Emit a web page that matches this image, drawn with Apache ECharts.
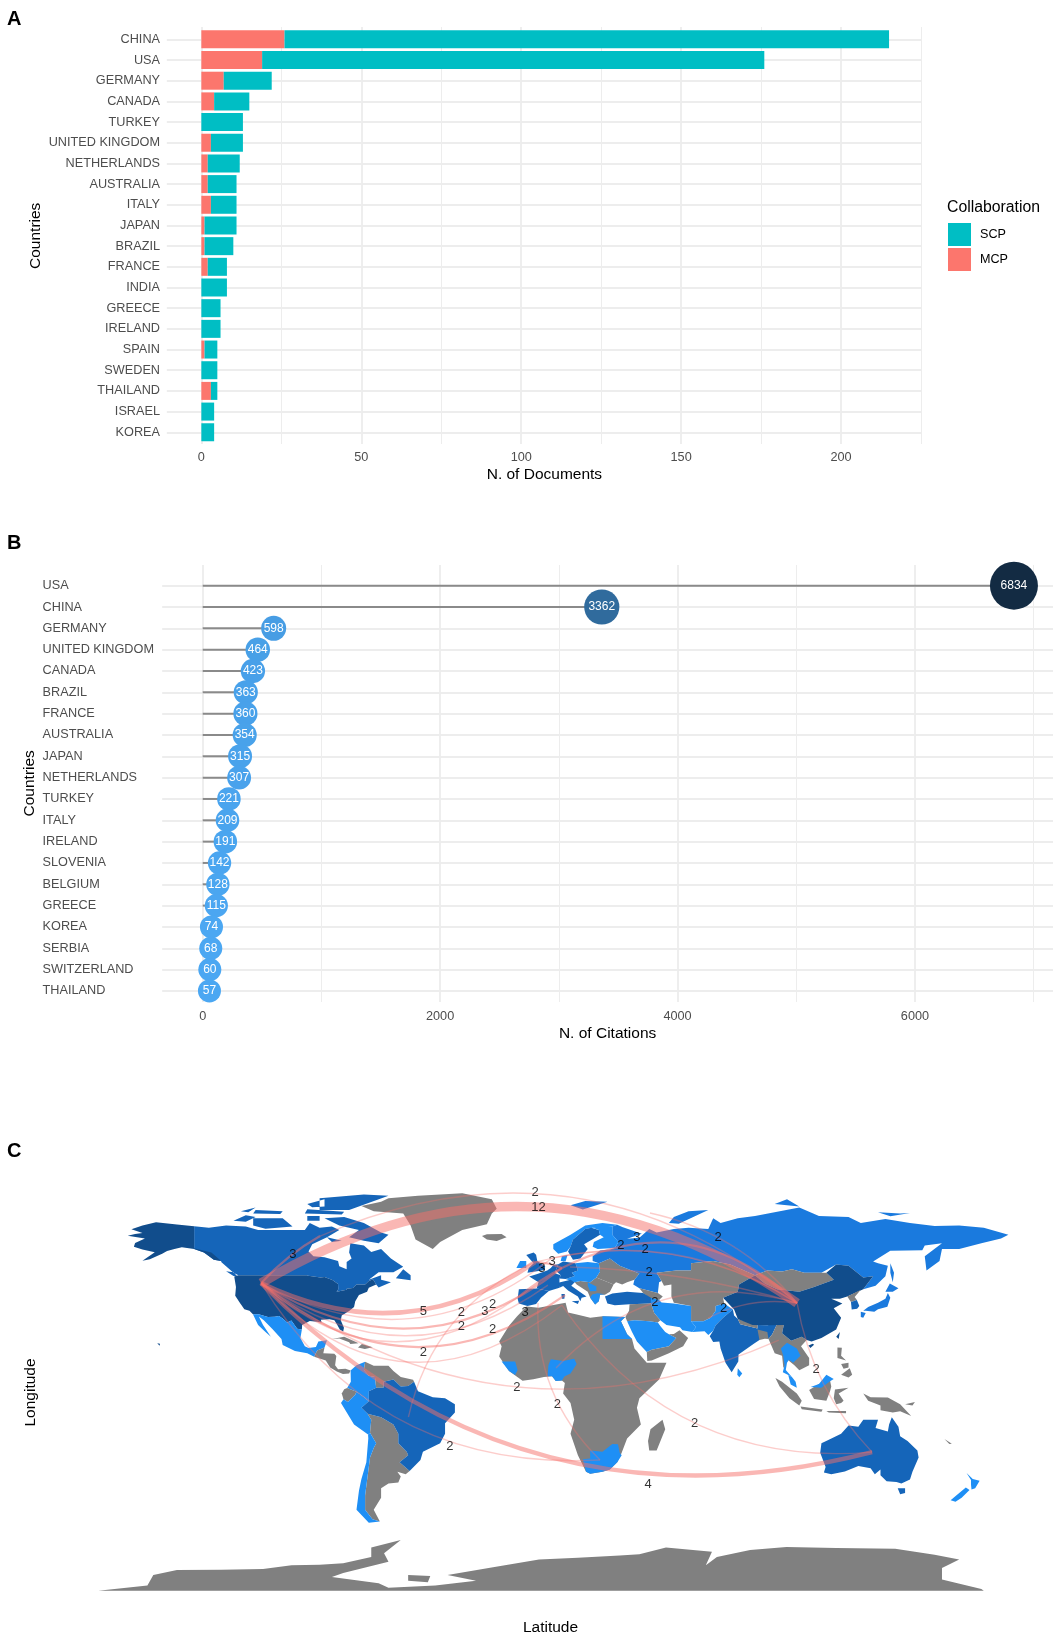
<!DOCTYPE html>
<html>
<head>
<meta charset="utf-8">
<title>Countries</title>
<script src="https://cdn.jsdelivr.net/npm/echarts@6/dist/echarts.min.js"></script>
<style>
  html, body { margin: 0; padding: 0; background: #fff; }
  #chart { width: 1059px; height: 1637px; }
</style>
</head>
<body>
<div id="chart"></div>
<script>
// panel A
const docCountries = ['CHINA', 'USA', 'GERMANY', 'CANADA', 'TURKEY', 'UNITED KINGDOM', 'NETHERLANDS', 'AUSTRALIA', 'ITALY', 'JAPAN', 'BRAZIL', 'FRANCE', 'INDIA', 'GREECE', 'IRELAND', 'SPAIN', 'SWEDEN', 'THAILAND', 'ISRAEL', 'KOREA']
const mcpDocs = [26, 19, 7, 4, 0, 3, 2, 2, 3, 1, 1, 2, 0, 0, 0, 1, 0, 3, 0, 0]
const scpDocs = [189, 157, 15, 11, 13, 10, 10, 9, 8, 10, 9, 6, 8, 6, 6, 4, 5, 2, 4, 4]
const docTicks = [0, 50, 100, 150, 200]
const docMinorTicks = [25, 75, 125, 175, 225]

// panel B
const citeCountries = ['USA', 'CHINA', 'GERMANY', 'UNITED KINGDOM', 'CANADA', 'BRAZIL', 'FRANCE', 'AUSTRALIA', 'JAPAN', 'NETHERLANDS', 'TURKEY', 'ITALY', 'IRELAND', 'SLOVENIA', 'BELGIUM', 'GREECE', 'KOREA', 'SERBIA', 'SWITZERLAND', 'THAILAND']
const citations = [6834, 3362, 598, 464, 423, 363, 360, 354, 315, 307, 221, 209, 191, 142, 128, 115, 74, 68, 60, 57]
const citeTicks = [0, 2000, 4000, 6000]
const citeMinorTicks = [1000, 3000, 5000, 7000]

// panel C, collaboration links, [lon, lat] of each country anchor
const anchors = {
  USA: [-113.8, 45.6], CHINA: [104.1, 37.2], AUSTRALIA: [134.6, -25.7], CANADA: [-89.8, 65.5],
  RUSSIA: [44.3, 75.2], GERMANY: [8.5, 52], UK: [-2.4, 54.5], NETHERLANDS: [4.5, 56.2],
  FRANCE: [2.8, 44.8], SPAIN: [-9.3, 39.7], ITALY: [9.8, 40.6], ALGERIA: [8.5, 36.3],
  NIGERIA: [6.1, 9.8], PAKISTAN: [67.9, 30.9], THAILAND: [96.7, 21.6], SOUTHAFRICA: [24, -29],
  BRAZIL: [-53.9, -10.9], MOROCCO: [-1.2, 37.2], SLOVENIA: [11.8, 52.4]
}
const linkFrom = ['CANADA', 'USA', 'USA', 'RUSSIA', 'GERMANY', 'UK', 'NETHERLANDS', 'SLOVENIA', 'NIGERIA', 'PAKISTAN', 'CHINA', 'ALGERIA', 'MOROCCO', 'USA', 'USA', 'USA', 'BRAZIL', 'USA', 'USA', 'USA', 'USA', 'USA', 'USA', 'USA', 'SPAIN', 'UK']
const linkTo = ['CHINA', 'CHINA', 'CANADA', 'CHINA', 'CHINA', 'CHINA', 'CHINA', 'CHINA', 'CHINA', 'CHINA', 'AUSTRALIA', 'AUSTRALIA', 'SOUTHAFRICA', 'THAILAND', 'SOUTHAFRICA', 'AUSTRALIA', 'UK', 'UK', 'NETHERLANDS', 'GERMANY', 'FRANCE', 'ITALY', 'SPAIN', 'ALGERIA', 'GERMANY', 'GERMANY']
const linkCounts = [2, 12, 3, 2, 3, 2, 2, 2, 2, 2, 2, 2, 2, 2, 2, 4, 2, 5, 2, 3, 2, 3, 2, 2, 3, 3]
const linkCurves = [0.305, 0.322, 0.08, 0.174, 0.351, 0.216, 0.206, 0.065, 0.304, 0.161, -0.152, -0.29, -0.224, -0.289, -0.298, -0.286, 0.25, -0.29, -0.33, -0.35, -0.36, -0.38, -0.4, -0.45, 0.05, 0.1]
const linkLabelAt = [[-2.4, 84], [-1, 77.7], [-100.9, 57.9], [72, 65], [39, 65], [32.5, 61.7], [42.3, 60], [43.9, 50.3], [46.3, 37.6], [74.2, 35.1], [111.8, 9.3], [62.4, -13.4], [6.7, -5.4], [-9.8, 1.7], [-37, -23.2], [43.5, -39.2], [-47.8, 16.2], [-47.8, 33.8], [-32.4, 33.1], [-22.8, 33.8], [-19.7, 36.8], [-6.5, 33.4], [-32.4, 27.5], [-19.7, 26.1], [0.4, 52], [4.5, 54.9]]
const linkWidths = { 2: 1.4, 3: 2.2, 4: 4.4, 5: 4.6, 12: 9.5 }

// map shades
const darkRegions = ['USA', 'China']
const midRegions = ['Canada', 'Brazil', 'Australia', 'India', 'UK', 'Germany', 'Netherlands', 'France', 'Spain', 'Italy', 'Turkey', 'South Korea', 'Sweden']
const brightRegions = ['Russia', 'Japan']
const lightRegions = ['Mexico', 'Colombia', 'Peru', 'Chile', 'Ireland', 'Poland', 'Serbia', 'Greece', 'Norway', 'Finland', 'Denmark', 'Iran', 'Saudi Arabia', 'Egypt', 'Pakistan', 'Nigeria', 'Guinea', 'South Africa', 'Thailand', 'Malaysia', 'New Zealand', 'Sri Lanka']

// rough outlines in lon/lat; later ones are painted over earlier ones
const mapShapes = [
  ['Greenland', [[[-73, 78.2], [-68, 76], [-56, 75], [-53, 70], [-51, 64], [-44, 60], [-41, 63], [-32, 68], [-22, 70.5], [-20, 75], [-18, 77], [-20, 81], [-32, 83.6], [-50, 82.5], [-62, 81.5], [-65, 80]]]],
  ['Iceland', [[[-24, 65.5], [-22, 64], [-18, 63.4], [-14, 65], [-16, 66.4], [-22, 66.3]]]],
  ['Canada', [
    [[-141, 69.6], [-135, 69], [-128, 70], [-120, 69.5], [-115, 68], [-108, 68], [-102, 68], [-96, 68], [-94, 71], [-90, 69], [-85, 69.5], [-82, 68], [-87, 65], [-93, 62], [-94.5, 59], [-92.5, 57], [-88, 56.5], [-82.5, 55], [-82, 52.8], [-79, 51.5], [-79, 54.5], [-77, 56], [-78, 58.5], [-77.5, 62.5], [-72, 61.5], [-69, 58.8], [-65, 60], [-61, 56], [-56, 52.5], [-60, 50.2], [-66, 50.2], [-70, 47], [-65, 49], [-65, 47], [-61, 46], [-66, 43.8], [-67, 45], [-68.3, 47.3], [-70, 46.5], [-71.5, 45], [-75, 45], [-76.5, 43.6], [-79, 43.3], [-79, 42.8], [-83.1, 42], [-82.4, 43], [-82.5, 45.3], [-84.8, 46.9], [-88, 48.2], [-89.6, 48], [-94.6, 48.7], [-95.2, 49], [-123, 49], [-125, 50], [-130, 54.5], [-130, 55], [-133, 55.5], [-137, 58.5], [-141, 60]],
    [[-80, 73.5], [-72, 71], [-65, 67], [-62, 66], [-66, 62.5], [-72, 63.5], [-78, 65], [-74, 68], [-82, 70], [-88, 73]],
    [[-117, 73], [-105, 73], [-101, 69.5], [-112, 68.6], [-117, 70]],
    [[-90, 76.5], [-78, 76.5], [-62, 82.5], [-72, 83], [-90, 81.5]],
    [[-125, 72], [-120, 74.3], [-116, 73.5], [-120, 71.5]],
    [[-96, 75], [-81, 74.6], [-80, 75.7], [-95, 76.8]],
    [[-117, 75], [-106, 74.8], [-105, 76], [-116, 76.5]],
    [[-95, 74], [-90, 74], [-90, 72], [-95, 72]],
    [[-122, 76], [-116, 77.5], [-119, 75.5]],
    [[-95, 79], [-88, 81], [-88, 78], [-93, 77.7]],
    [[-59, 47.7], [-53, 46.8], [-53, 49], [-56, 51.5]],
    [[-87, 65], [-81, 63.5], [-85, 63]],
    [[-128, 50.6], [-125, 48.6], [-123.5, 48.5], [-125, 50.2]]
  ]],
  ['USA', [
    [[-124.7, 48.4], [-123, 49], [-95.2, 49], [-94.6, 48.7], [-89.6, 48], [-88, 48.2], [-84.8, 46.9], [-82.5, 45.3], [-82.4, 43], [-83.1, 42], [-79, 42.8], [-79, 43.3], [-76.5, 43.6], [-75, 45], [-71.5, 45], [-70, 46.5], [-68.3, 47.3], [-67, 45], [-70, 43.7], [-70.7, 42], [-74, 40.6], [-75.5, 38], [-76, 35.5], [-78, 33.9], [-81, 32], [-81.4, 30], [-80.1, 26.8], [-80.4, 25.2], [-81.8, 26], [-82.8, 28], [-84, 30], [-86, 30.4], [-89.5, 30.2], [-89.2, 29], [-91, 29.3], [-94, 29.6], [-97.1, 28], [-97.2, 26], [-99.1, 26.4], [-101.5, 29.8], [-103.2, 29], [-104.9, 30.6], [-106.5, 31.8], [-108.2, 31.4], [-111, 31.3], [-114.8, 32.5], [-117.1, 32.5], [-118.5, 34], [-120.6, 34.6], [-122.5, 37.5], [-124.3, 40.3], [-124, 44]],
    [[-141, 69.6], [-148, 70.4], [-156.5, 71.3], [-162, 70], [-166.5, 68.4], [-162, 66.8], [-165, 66.4], [-168, 65.6], [-161, 64.5], [-165, 62.6], [-165.5, 61], [-162, 59.8], [-157, 58.7], [-162, 55.1], [-159, 55.7], [-154, 58], [-152, 59.2], [-149, 60], [-146, 60.8], [-141, 60], [-137, 58.5], [-133, 55.5], [-130, 55], [-134, 58.5], [-137, 59.3], [-141, 60.3]],
    [[-156, 20.2], [-155, 19.2], [-154.9, 20]]
  ]],
  ['Mexico', [[[-117.1, 32.5], [-114.8, 32.5], [-111, 31.3], [-108.2, 31.4], [-106.5, 31.8], [-104.9, 30.6], [-103.2, 29], [-101.5, 29.8], [-99.1, 26.4], [-97.2, 26], [-97.8, 22.5], [-96, 19], [-94.5, 18.2], [-91.5, 18.7], [-90.5, 21], [-87, 21.5], [-88, 18.5], [-89.2, 17.9], [-91, 17.2], [-92.2, 14.6], [-95, 16], [-100, 17], [-105, 19.5], [-105.5, 22], [-109, 26], [-112.7, 30], [-114.7, 31.5], [-113, 28], [-109.8, 23], [-112, 25], [-115, 28]]]],
  ['Central America', [
    [[-92.2, 14.6], [-91, 17.2], [-89.2, 17.9], [-88, 18.5], [-88.5, 16], [-84, 15.8], [-83.2, 14.9], [-83.7, 11], [-82.5, 9.3], [-79.5, 9.5], [-77.4, 8.7], [-78, 7.5], [-80.5, 7.3], [-83, 8.3], [-85.7, 10], [-87.5, 13]],
    [[-85, 22], [-80, 23], [-75, 20.7], [-74.2, 20.2], [-77.5, 19.9], [-78, 20.7], [-82, 22.3]],
    [[-74.4, 18.5], [-72.8, 19.9], [-68.4, 18.6], [-71.6, 17.8]]
  ]],
  ['Colombia', [[[-77.4, 8.7], [-75, 11], [-71.5, 12.4], [-72, 9], [-70, 6.5], [-67.5, 6], [-67, 1.5], [-70, 0], [-70, -4.2], [-72, -2.4], [-75, -0.2], [-78.8, 1.4], [-77.3, 4]]]],
  ['Venezuela', [[[-71.5, 12.4], [-68, 10.7], [-62, 10.7], [-60, 8.5], [-57, 6], [-52, 4.8], [-51.6, 4], [-54, 2.2], [-57, 2], [-60, 5], [-64, 4], [-64, 1.5], [-67, 1.5], [-67.5, 6], [-70, 6.5], [-72, 9]]]],
  ['Ecuador', [[[-78.8, 1.4], [-75, -0.2], [-75.5, -1.5], [-78.5, -4.5], [-80.3, -3.4], [-81, -1], [-80, 0.8]]]],
  ['Peru', [[[-75, -0.2], [-72, -2.4], [-70, -4.2], [-73, -7], [-70.5, -9.5], [-69, -12], [-69.5, -17.5], [-70.3, -18.3], [-76, -14], [-81.3, -5], [-80.3, -3.4], [-78.5, -4.5], [-75.5, -1.5]]]],
  ['Argentina', [[[-69, -12], [-70.5, -9.5], [-65, -11], [-60, -14], [-58, -18], [-58, -22], [-54.6, -25.5], [-54, -27], [-57.5, -30], [-53.4, -33.7], [-55, -35], [-58.4, -34], [-57, -36], [-58, -38.5], [-62, -39], [-65, -41], [-65, -45], [-68, -50], [-65.5, -55], [-68.5, -54], [-71.5, -50], [-71.5, -44], [-70.5, -36], [-69.5, -28], [-68, -24], [-67, -22], [-69.5, -17.5]]]],
  ['Chile', [[[-69.5, -17.5], [-67, -22], [-68, -24], [-69.5, -28], [-70.5, -36], [-71.5, -44], [-71.5, -50], [-68.5, -54], [-65.5, -55], [-70, -55.5], [-75, -50], [-74, -42], [-73, -37], [-71, -30], [-70.2, -20], [-70.3, -18.3]]]],
  ['Brazil', [[[-51.6, 4], [-50, 0], [-44, -2.5], [-39, -3], [-35, -5.5], [-35, -9], [-39, -13.5], [-39, -18], [-41, -22], [-48, -25.5], [-49, -29], [-53.4, -33.7], [-57.5, -30], [-54, -27], [-54.6, -25.5], [-58, -22], [-58, -18], [-60, -14], [-65, -11], [-70.5, -9.5], [-73, -7], [-70, -4.2], [-70, 0], [-67, 1.5], [-64, 1.5], [-64, 4], [-60, 5], [-57, 2], [-54, 2.2]]]],
  ['Africa', [
    [[-5.9, 35.8], [-1, 35.2], [10, 37.3], [11, 33.2], [15, 32.3], [20, 31], [25, 31.6], [34.2, 31.3], [32.5, 29.5], [35, 24], [37, 22], [38, 18], [43, 12], [51, 12], [48, 5], [40, -3], [39, -7], [40.6, -14], [35, -20], [32.8, -26], [31, -30], [28, -33], [25, -34], [20, -34.8], [18.3, -34], [15, -27], [12, -18], [13.5, -12], [12, -5], [9, -1], [9.7, 3.5], [8.5, 4.5], [6, 4.3], [4.5, 6.3], [1.2, 6], [-3.1, 5.1], [-7.5, 4.4], [-13, 8.5], [-17, 14.7], [-16, 19], [-17, 21], [-13, 27.6], [-9.8, 31.5]],
    [[49.4, -12], [50.5, -16], [47, -25], [44, -25], [43.5, -21], [44.5, -16]]
  ]],
  ['Egypt', [[[25, 31.6], [34.2, 31.3], [32.5, 29.5], [35, 24], [37, 22], [25, 22]]]],
  ['Nigeria', [[[2.7, 6.3], [4.5, 6.3], [6, 4.3], [8.5, 4.5], [9.5, 6.2], [12, 7.5], [14.5, 11.5], [13.5, 13.7], [9, 12.8], [4, 13.5], [3, 11]]]],
  ['Guinea', [[[-16, 12.5], [-13, 8.5], [-10.5, 6.8], [-9.5, 9], [-10.5, 12.5]]]],
  ['South Africa', [[[17, -28.7], [20, -28.4], [20, -25], [25, -25.5], [29, -22.3], [31.3, -22.4], [32, -26], [32.8, -27], [31, -30], [28, -33], [25, -34], [20, -34.8], [18.3, -34]]]],
  ['Balkans', [[[13.7, 46], [16, 46.5], [20, 46], [22.5, 48], [29.5, 45], [28, 42], [26, 40.7], [24, 40.7], [23.5, 38], [22, 36.6], [20, 39.5], [19, 42], [14.5, 45]]]],
  ['Ukraine', [[[23.5, 54], [28, 56], [32, 53], [40, 49.7], [38, 47], [35, 46], [33, 45], [30.5, 46], [29.5, 45], [22.5, 48], [24, 50.5]]]],
  ['Spain', [[[-9, 43], [-1.8, 43.4], [3.2, 42.3], [0, 39.5], [-2, 36.8], [-5.5, 36], [-9, 37], [-9.5, 39]]]],
  ['France', [[[-1.8, 43.4], [3.2, 42.3], [7.5, 43.7], [7.5, 47.5], [8, 49], [2.5, 51], [-1.5, 49.5], [-4.8, 48.4], [-1, 46]]]],
  ['UK', [[[-5.5, 50], [1.5, 51.2], [1.7, 52.8], [-1.5, 55], [-2, 57.6], [-3, 58.6], [-6, 57.5], [-3, 54], [-5, 52]]]],
  ['Ireland', [[[-10, 52], [-6, 52], [-6, 55], [-8.5, 55]]]],
  ['Poland', [[[14, 54], [19, 54.5], [23.5, 54], [24, 50.5], [22.5, 48], [20, 46], [16, 46.5], [13.7, 46], [10, 47.4], [13.7, 48.6], [12.5, 50], [15, 51]]]],
  ['Germany', [[[6, 51], [7, 53.6], [9, 54.8], [14, 54], [15, 51], [12.5, 50], [13.7, 48.6], [10, 47.4], [7.5, 47.6], [8, 49]]]],
  ['Netherlands', [[[2.5, 51], [4, 52], [5, 53.3], [7, 53.6], [6, 51], [5.8, 49.6], [3, 50.5]]]],
  ['Italy', [
    [[7.5, 43.7], [7, 45.8], [12, 47], [13.7, 46], [12.3, 44.5], [16, 41.8], [18.5, 40], [16.5, 39.5], [16, 38], [15, 40], [11, 42.5], [9, 44.4]],
    [[12.5, 38], [15.5, 38.2], [15, 36.8]],
    [[8.3, 41], [9.7, 41], [9.5, 39], [8.5, 39]]
  ]],
  ['Serbia', [[[19, 46], [22.5, 44.2], [22.5, 42.3], [20, 42.2], [19, 44.5]]]],
  ['Greece', [[[20, 39.5], [22, 36.6], [23.5, 38], [24, 40.7], [26, 40.9], [23, 41.3], [20.8, 40.8]]]],
  ['Norway', [[[5, 60], [7, 58], [10.5, 59], [12, 61], [13, 64], [18, 68.5], [21, 69], [29, 69.5], [31, 70.3], [25, 71], [18, 70], [12, 66], [5, 62]]]],
  ['Sweden', [[[11, 59], [13, 55.5], [16, 56], [19, 60], [17.5, 62], [21.5, 64.5], [24, 66], [23.5, 68], [20.5, 69], [18, 68.5], [13, 64], [12, 61]]]],
  ['Denmark', [[[8, 55], [8.5, 57], [10.8, 57.5], [10, 54.9]]]],
  ['Russia', [
    [[21, 55], [23.5, 54], [28, 56], [32, 53], [40, 49.7], [38, 47], [37.5, 45], [40, 43.5], [47.5, 41.5], [48, 46], [49, 46.5], [47, 50], [55, 51], [61, 51], [61, 54], [70, 55], [77, 53.5], [87, 49], [92, 51], [98, 50.5], [102, 51.5], [107, 50], [114, 50], [120, 53.5], [125, 53], [131, 48], [135, 48.5], [131, 43], [136, 44.5], [140, 48.5], [141, 53], [137, 54], [135, 54.7], [142, 59.3], [155, 59.5], [156, 61.5], [163, 62.5], [156, 57], [156.7, 51], [162, 55], [163, 60], [170, 60], [179, 62.5], [187, 64.5], [190, 66], [180, 69], [170, 70], [160, 69.7], [150, 71], [140, 72.7], [130, 71], [125, 73.5], [113, 74], [105, 77.5], [87, 74], [80, 73], [73, 71], [70, 73], [68, 68.5], [60, 69], [54, 68.5], [47, 67], [44, 68.5], [40, 64.8], [35, 64.4], [41, 66.5], [33, 69.3], [31, 70.3], [29, 69.5], [29, 66], [31.5, 63], [30, 60.5], [28, 59.8], [24, 59.4], [21, 57]],
    [[52, 71], [56, 70.7], [68, 76.5], [60, 76], [54, 73.5]],
    [[142, 54], [143.5, 50], [143, 46], [142, 50]],
    [[12, 78.5], [17, 76.7], [27, 80], [18, 80.3]],
    [[95, 79], [105, 78], [100, 81]],
    [[137, 75.5], [146, 75], [150, 75.2], [142, 73.9]]
  ]],
  ['Finland', [[[23, 60], [30, 60.5], [31.5, 63], [29, 66], [29, 69.5], [25, 70], [21, 69], [23.5, 68], [24, 66], [25.5, 65], [21.5, 63], [21, 61]]]],
  ['Central Asia', [[[47, 50], [55, 51], [61, 51], [61, 54], [70, 55], [77, 53.5], [87, 49], [80.5, 45], [80, 42], [74, 39.5], [74.5, 37], [71, 36], [71, 34], [69, 31], [66, 29.5], [61, 29.5], [61, 36], [54, 37.3], [53, 40], [53, 45], [50, 44.5], [49, 46.5]]]],
  ['Mongolia', [[[87, 49], [92, 51], [98, 50.5], [102, 51.5], [107, 50], [114, 50], [116, 50], [119, 47], [111, 44], [105, 42], [96, 43], [91, 45.5]]]],
  ['Caucasus', [[[40, 43.5], [47.5, 41.5], [49.5, 40], [48, 38.5], [44, 39.5], [41.5, 41.5]]]],
  ['Turkey', [[[26, 40], [29, 41.2], [35, 42], [41.5, 41.5], [44.7, 39.5], [44.7, 37], [36, 36.7], [30, 36.3], [27, 37]]]],
  ['Iran', [[[44.7, 39.5], [48, 38.5], [49, 37.5], [54, 37], [61, 36], [61, 29.5], [63, 27], [61.5, 25], [57.5, 25.7], [56.5, 27], [51, 28], [48.5, 30], [46, 33], [44.7, 37]]]],
  ['Iraq', [[[36, 36.7], [44.7, 37], [46, 33], [48.5, 30], [47.5, 29], [44, 29.5], [38, 30], [35, 29.5], [34.3, 31.3], [35.8, 34]]]],
  ['Saudi Arabia', [[[35, 29.5], [38, 30], [44, 29.5], [47.5, 29], [48.5, 27.5], [50.5, 25], [52, 24], [55, 22.5], [52, 19], [45, 17.5], [43, 16.6], [39, 21], [37, 25]]]],
  ['Oman', [[[43, 16.6], [45, 17.5], [52, 19], [55, 22.5], [52, 24], [54, 24.2], [56.3, 25.7], [59.8, 22.5], [57.8, 19], [52, 16], [45, 13], [43.2, 12.8]]]],
  ['Pakistan', [[[61, 29.5], [66, 29.5], [69, 31], [71, 34], [71, 36], [74.5, 37], [78, 34.5], [74, 31], [71, 27.8], [70, 25.5], [68, 23.7], [66.5, 25.3], [61.5, 25], [63, 27]]]],
  ['India', [[[74, 31], [78, 34.5], [78.5, 32], [80, 30.5], [81, 28.3], [88, 26.5], [88, 28], [92, 27.8], [96, 28.5], [94, 24], [92.5, 22], [91, 24.2], [88.8, 21.6], [86.5, 20], [80.3, 15.5], [80.2, 12.5], [77.5, 8], [75, 12], [73, 18], [72.5, 21], [70, 20.8], [68.6, 23.2], [70, 25.5], [71, 27.8]]]],
  ['Nepal', [[[80, 30.5], [88, 28], [88, 26.5], [81, 28.3]]]],
  ['Bangladesh', [[[88, 26], [92, 25], [92.5, 22], [91, 22.2], [88.8, 21.6]]]],
  ['Indochina', [[[92.5, 22], [94, 24], [96, 28.5], [98.7, 28], [98, 24.5], [101.7, 21.3], [106, 23], [108, 21.6], [105.7, 19], [109, 14], [109, 11], [105, 8.8], [103, 11], [100, 13.5], [99, 10], [98.5, 10], [98, 15], [95, 16], [94, 18.5]]]],
  ['Thailand', [[[97.5, 18], [100, 20.5], [104, 18], [105.5, 15], [102.5, 12], [100.8, 13.3], [100, 12], [99.5, 9], [102, 6], [100.5, 6.8], [98.3, 8], [99, 11], [98.5, 15]]]],
  ['China', [
    [[74, 39.5], [80, 42], [80.5, 45], [87, 49], [91, 45.5], [96, 43], [105, 42], [111, 44], [119, 47], [116, 50], [120, 53.5], [125, 53], [131, 48], [135, 48.5], [131, 43], [124.5, 40], [121.5, 39], [118, 39], [122.5, 37], [119, 35], [122, 31], [120, 26], [114, 22.5], [110, 21], [108, 21.6], [106, 23], [101.7, 21.3], [98, 24.5], [98.7, 28], [92, 27.8], [86, 28], [80, 30.5], [78.5, 34.5]],
    [[108.7, 19.3], [110.5, 20], [111, 19.6], [109.5, 18.2]],
    [[120, 23], [121.5, 25], [121, 22]]
  ]],
  ['North Korea', [[[124.5, 40], [130, 42.8], [127.5, 39.8], [128.4, 38.5], [126, 37.7]]]],
  ['South Korea', [[[126, 37.7], [128.4, 38.5], [129.4, 36], [128.5, 34.8], [126.3, 34.5]]]],
  ['Japan', [
    [[131, 34], [133, 35.5], [137, 37.3], [140, 39], [141, 41.5], [142, 39.5], [140.8, 35.7], [137, 34.6], [135.5, 33.5], [132, 34]],
    [[140, 42], [141.8, 45.5], [145.3, 43.5], [143, 42]],
    [[130, 33.5], [132, 33], [131, 31], [130, 31.3]]
  ]],
  ['Sri Lanka', [[[80, 9.7], [81.8, 7.5], [80.6, 5.9], [79.8, 7]]]],
  ['Indonesia', [
    [[109, 0.5], [113, 3], [117.5, 4.5], [118, 2], [117.5, 0], [116, -4], [111, -3.3]],
    [[95.3, 5.6], [98, 4], [104, -1], [106, -4], [105, -6], [101, -3], [97, 2]],
    [[105.5, -6.5], [114.5, -7.7], [114, -8.7], [106, -7.6]],
    [[119.5, 0.7], [125, 1.5], [121, -1], [123, -4], [122, -5], [120, -5.5], [119, -3]],
    [[131, -1], [134, -2.5], [141, -2.6], [146, -5.5], [150.5, -10.5], [146, -8.5], [143, -9], [138, -8], [138, -6], [133, -4]],
    [[116, -8.3], [124, -8.3], [124, -9.3], [117, -9]],
    [[148, -5.5], [152, -4.5], [151, -6]],
    [[164, -20.2], [167, -22.2], [166, -22.3]]
  ]],
  ['Philippines', [
    [[120.5, 18.5], [122.3, 18.3], [122, 15], [124, 13], [120.5, 14]],
    [[122, 7], [125.5, 9.7], [126.5, 7], [125, 5.8]],
    [[122, 11.5], [125, 12], [125, 10], [123, 9.5]]
  ]],
  ['Malaysia', [
    [[100.5, 6.8], [102, 6], [103.5, 4], [104, 1.5], [101.5, 2.8]],
    [[109.6, 1.8], [113, 3], [116, 7], [119, 5.2], [117.5, 4.2], [114, 1.5]]
  ]],
  ['Australia', [
    [[114, -22], [113.5, -26], [115.7, -32], [115, -34.3], [118, -35], [123.5, -33.9], [129, -31.6], [134, -32.5], [135.7, -35], [138, -33], [138, -35.5], [140.5, -38], [144.5, -38.3], [146.5, -39], [150, -37.3], [151, -34], [153.5, -28], [153, -25], [149, -21], [146, -19], [145.3, -15], [142.6, -11], [141.5, -14], [141, -17], [136, -15.5], [137, -12], [131, -12], [129, -15], [125, -14.5], [122, -18], [117, -20.5]],
    [[145, -41], [148, -41], [148, -43], [146, -43.5]]
  ]],
  ['New Zealand', [
    [[173, -34.5], [175.5, -37], [178.3, -37.8], [176.5, -41], [175, -41.5], [174.8, -39.5], [174.8, -37.5]],
    [[172.7, -40.6], [174.2, -41.7], [171, -45], [168.5, -46.6], [166.5, -46], [170, -43]]
  ]],
  ['Antarctica', [
    [[-180, -84.2], [-160, -82], [-157.6, -77.6], [-148, -75.5], [-130, -75.3], [-113, -75], [-101.4, -73.4], [-90, -73.2], [-80.4, -72.6], [-69, -70], [-69, -66], [-57, -62.8], [-63.8, -68.4], [-62, -72], [-80.4, -76.7], [-85, -78.4], [-66, -81], [-62, -83], [-43, -82], [-26.4, -80], [-38, -77.6], [-19.5, -74.3], [-0.8, -71], [15, -70.3], [32, -69.3], [40, -68.8], [50.8, -66], [69.5, -67.8], [67, -73.4], [71.5, -70], [85, -67], [99.8, -65.8], [120, -66.2], [144, -66.5], [160, -69], [170, -71], [163, -74.6], [163, -79.5], [179, -83.5], [180, -84.2]],
    [[-54, -77.6], [-45, -78], [-46, -80.6], [-54, -80]]
  ]]
]

const TICK_COLOR = '#4d4d4d'
const GRID_COLOR = '#ededed'

const chart = echarts.init(document.getElementById('chart'))

echarts.registerMap('collabWorld', {
  type: 'FeatureCollection',
  features: mapShapes.map(function (item) {
    return {
      type: 'Feature',
      properties: { name: item[0] },
      geometry: { type: 'MultiPolygon', coordinates: item[1].map(function (ring) { return [ring] }) }
    }
  })
})

function shade (names, color) {
  return names.map(function (name) {
    return { name: name, itemStyle: { areaColor: color } }
  })
}

// hidden axis that only draws vertical grid lines
function gridOnlyAxis (gridIndex, min, max, ticks, width) {
  return {
    type: 'value',
    gridIndex: gridIndex,
    min: min,
    max: max,
    axisLine: { show: false },
    axisTick: { show: false, customValues: ticks },
    axisLabel: { show: false },
    splitLine: { show: true, lineStyle: { color: GRID_COLOR, width: width } }
  }
}

function valueAxis (gridIndex, min, max, ticks, name, nameGap) {
  return {
    type: 'value',
    gridIndex: gridIndex,
    min: min,
    max: max,
    name: name,
    nameLocation: 'middle',
    nameGap: nameGap,
    nameTextStyle: { color: '#000', fontSize: 15.5 },
    axisLine: { show: false },
    axisTick: { show: false, customValues: ticks },
    axisLabel: {
      customValues: ticks,
      color: TICK_COLOR,
      fontSize: 12.7,
      margin: 8,
      formatter: function (v) { return String(v) }
    },
    splitLine: { show: false }
  }
}

function categoryAxis (gridIndex, data, nameGap, namePadding, labelExtra) {
  return {
    type: 'category',
    gridIndex: gridIndex,
    inverse: true,
    data: data,
    name: 'Countries',
    nameLocation: 'middle',
    nameGap: nameGap,
    nameMoveOverlap: false,
    nameTextStyle: { color: '#000', fontSize: 15.5, padding: namePadding },
    axisLine: { show: false },
    axisTick: { show: false },
    axisLabel: Object.assign({ color: TICK_COLOR, fontSize: 12.7, interval: 0 }, labelExtra),
    splitLine: { show: true, alignWithLabel: true, interval: 0, lineStyle: { color: GRID_COLOR, width: 2 } }
  }
}

const option = {
  animation: false,
  backgroundColor: '#fff',
  textStyle: { fontFamily: '"Liberation Sans", Arial, sans-serif' },
  title: [
    { text: 'A', left: 7, top: 9, padding: 0, textStyle: { fontSize: 20, fontWeight: 'bold', color: '#000' } },
    { text: 'B', left: 7, top: 533, padding: 0, textStyle: { fontSize: 20, fontWeight: 'bold', color: '#000' } },
    { text: 'C', left: 7, top: 1141, padding: 0, textStyle: { fontSize: 20, fontWeight: 'bold', color: '#000' } },
    { text: 'Collaboration', left: 947, top: 200, padding: 0, textStyle: { fontSize: 15.8, fontWeight: 'normal', color: '#000' } }
  ],
  legend: {
    data: ['SCP', 'MCP'],
    orient: 'vertical',
    left: 948,
    top: 223,
    padding: 0,
    itemWidth: 23,
    itemHeight: 23,
    itemGap: 2,
    icon: 'rect',
    selectedMode: false,
    textStyle: { color: '#000', fontSize: 12.6, padding: [0, 0, 0, 4] }
  },
  visualMap: {
    show: false,
    type: 'continuous',
    seriesIndex: 3,
    dimension: 0,
    min: Math.min.apply(null, citations),
    max: Math.max.apply(null, citations),
    inRange: { color: ['#4ba7f2', '#132b43'] }
  },
  grid: [
    { left: 166.8, top: 29, width: 755.2, height: 413.6 },
    { left: 166.8, top: 27, width: 755.2, height: 417 },
    { left: 162.2, top: 575, width: 890.8, height: 426.6 },
    { left: 162.2, top: 565, width: 890.8, height: 437 },
    { left: 98, top: 1178, width: 910, height: 415 }
  ],
  xAxis: [
    valueAxis(0, -10.8, 225.3, docTicks, 'N. of Documents', 24),
    gridOnlyAxis(1, -10.8, 225.3, docTicks, 1.8),
    gridOnlyAxis(1, -10.8, 225.3, docMinorTicks, 1),
    valueAxis(2, -341, 7163, citeTicks, 'N. of Citations', 24),
    gridOnlyAxis(3, -341, 7163, citeTicks, 1.8),
    gridOnlyAxis(3, -341, 7163, citeMinorTicks, 1),
    { type: 'value', gridIndex: 4, min: 0, max: 1, name: 'Latitude', nameLocation: 'middle', nameGap: 27, nameTextStyle: { color: '#000', fontSize: 15.5, padding: [0, 5, 0, 0] }, axisLine: { show: false }, axisTick: { show: false }, axisLabel: { show: false }, splitLine: { show: false } }
  ],
  yAxis: [
    categoryAxis(0, docCountries, 122.8, 0, { margin: 6.8 }),
    { type: 'value', gridIndex: 1, show: false },
    categoryAxis(2, citeCountries, 124.5, [0, 0, 0, 10], { margin: 119.6, align: 'left' }),
    { type: 'value', gridIndex: 3, show: false },
    { type: 'value', gridIndex: 4, min: 0, max: 1, name: 'Longitude', nameLocation: 'middle', nameGap: 59, nameTextStyle: { color: '#000', fontSize: 15.5, padding: [0, 14, 0, 0] }, axisLine: { show: false }, axisTick: { show: false }, axisLabel: { show: false }, splitLine: { show: false } }
  ],
  geo: {
    map: 'collabWorld',
    silent: true,
    boundingCoords: [[-180, 90], [190, -85]],
    aspectScale: 1.0383,
    layoutCenter: [553.3, 1385.3],
    layoutSize: 910.2,
    itemStyle: { areaColor: '#808080', borderWidth: 0 },
    label: { show: false },
    regions: shade(darkRegions, '#114d8c')
      .concat(shade(midRegions, '#1565b9'))
      .concat(shade(brightRegions, '#1a7ade'))
      .concat(shade(lightRegions, '#1e8ff5'))
  },
  series: [
    {
      name: 'MCP',
      type: 'bar',
      stack: 'docs',
      xAxisIndex: 0,
      yAxisIndex: 0,
      barWidth: 18,
      silent: true,
      itemStyle: { color: '#fc766d' },
      data: mcpDocs
    },
    {
      name: 'SCP',
      type: 'bar',
      stack: 'docs',
      xAxisIndex: 0,
      yAxisIndex: 0,
      barWidth: 18,
      silent: true,
      itemStyle: { color: '#00bec4' },
      data: scpDocs
    },
    {
      name: 'stems',
      type: 'bar',
      xAxisIndex: 3,
      yAxisIndex: 2,
      barWidth: 2,
      silent: true,
      itemStyle: { color: '#8a8a8a' },
      data: citations
    },
    {
      name: 'citations',
      type: 'scatter',
      xAxisIndex: 3,
      yAxisIndex: 2,
      clip: false,
      silent: true,
      z: 5,
      itemStyle: { opacity: 1 },
      symbolSize: function (val) {
        return 23 + 25 * (val[0] - 57) / 6777
      },
      label: { show: true, position: 'inside', color: '#fff', fontSize: 12, formatter: function (p) { return p.data[0] } },
      data: citations.map(function (v, i) { return [v, citeCountries[i]] })
    },
    {
      name: 'links',
      type: 'lines',
      coordinateSystem: 'geo',
      geoIndex: 0,
      silent: true,
      z: 6,
      lineStyle: { color: '#f6706a' },
      data: linkCounts.map(function (count, i) {
        return {
          coords: [anchors[linkFrom[i]], anchors[linkTo[i]]],
          lineStyle: { width: linkWidths[count], curveness: linkCurves[i], opacity: count > 2 ? 0.5 : 0.35 }
        }
      })
    },
    {
      name: 'link labels',
      type: 'scatter',
      coordinateSystem: 'geo',
      geoIndex: 0,
      silent: true,
      z: 7,
      symbolSize: 1,
      itemStyle: { color: 'transparent' },
      label: { show: true, position: 'inside', color: '#000', fontSize: 13, formatter: function (p) { return p.data[2] } },
      data: linkCounts.map(function (count, i) { return [linkLabelAt[i][0], linkLabelAt[i][1], count] })
    }
  ]
}

chart.setOption(option)
</script>
</body>
</html>
